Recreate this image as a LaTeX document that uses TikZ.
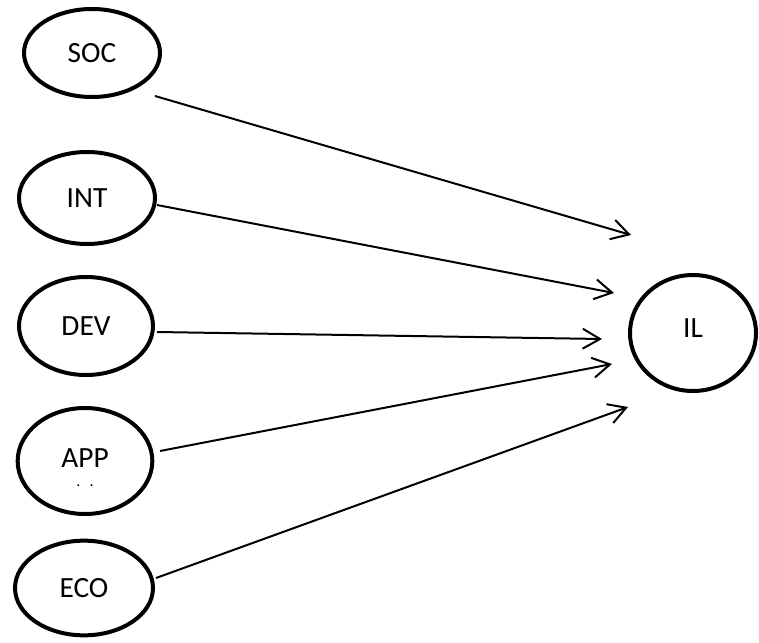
\documentclass[tikz,border=0pt]{standalone}
\usepackage{fontspec}
\setmainfont{Carlito}
\usetikzlibrary{shapes.geometric,arrows.meta}
\begin{document}
\begin{tikzpicture}[x=0.75pt,y=-0.75pt,
  ell/.style={ellipse,draw,line width=3pt,inner sep=0pt,font=\fontsize{22}{26}\selectfont},
  arr/.style={line width=1.5pt,-{Straight Barb[length=13pt,width=15pt,line width=1.5pt]}}]
\useasboundingbox (0,0) rectangle (759,642);
\node[ell,minimum width=102pt,minimum height=66pt] (soc) at (92,53) {SOC};
\node[ell,minimum width=102pt,minimum height=69pt] (int) at (87,198) {INT};
\node[ell,minimum width=100.5pt,minimum height=73.5pt] (dev) at (86,326) {DEV};
\node[ell,minimum width=101pt,minimum height=79.5pt] (app) at (85,461) {\raisebox{4pt}{APP}};
\node[font=\fontsize{12}{12}\selectfont,inner sep=0pt] (appdots) at (85,486) {.\hspace{7pt}.};
\node[ell,minimum width=103.5pt,minimum height=71pt] (eco) at (84,588) {ECO};
\node[ell,minimum width=94.5pt,minimum height=87pt] (il) at (693,333) {\raisebox{8pt}{IL}};
\draw[arr] ([shift={(63,43)}]soc.center) -- ([shift={(-62,-98)}]il.center);
\draw[arr] ([shift={(70,7)}]int.center) -- ([shift={(-79,-40)}]il.center);
\draw[arr] ([shift={(71,6)}]dev.center) -- ([shift={(-91,6)}]il.center);
\draw[arr] ([shift={(75,-10)}]app.center) -- ([shift={(-81,31)}]il.center);
\draw[arr] ([shift={(72,-10)}]eco.center) -- ([shift={(-65,74)}]il.center);
\end{tikzpicture}
\end{document}
